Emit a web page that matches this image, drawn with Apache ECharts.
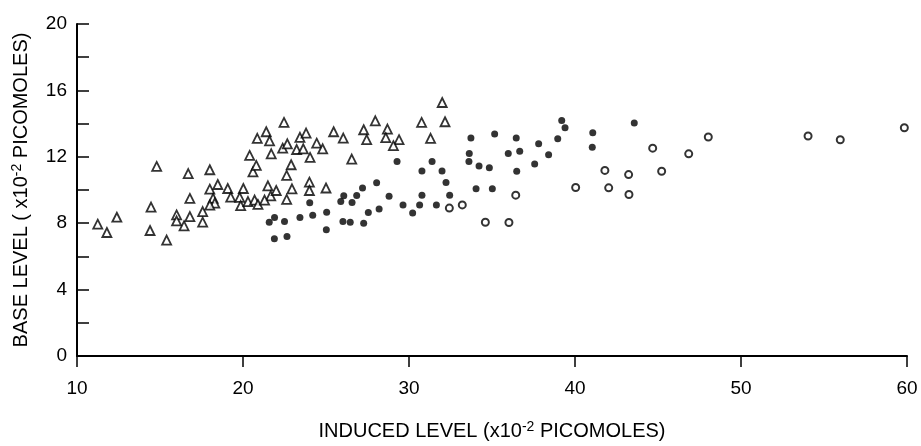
<!DOCTYPE html>
<html>
<head>
<meta charset="utf-8">
<script src="https://cdn.jsdelivr.net/npm/echarts@6/dist/echarts.min.js"></script>
<style>
  html, body { margin: 0; padding: 0; background: #fff; }
  #chart { width: 921px; height: 446px; }
</style>
</head>
<body>
<div id="chart"></div>
<script>
// open triangles
const triangles = [
  [11.25, 7.94], [11.8, 7.44], [12.4, 8.36], [14.4, 7.56], [14.46, 8.97],
  [14.8, 11.42], [15.4, 6.98], [16.0, 8.5], [16.0, 8.14], [16.45, 7.84],
  [16.8, 8.4], [16.7, 10.99], [16.8, 9.49], [17.57, 8.7], [17.57, 8.06],
  [18.0, 11.22], [18.0, 10.05], [18.2, 9.49], [18.3, 9.21], [18.0, 9.09],
  [18.48, 10.33], [19.08, 10.09], [19.26, 9.57], [20.02, 10.09], [19.8, 9.55],
  [19.86, 9.06], [20.3, 9.3], [20.7, 9.39], [20.9, 9.13], [20.4, 12.08],
  [20.6, 11.09], [20.8, 11.48], [20.86, 13.11], [21.4, 13.51], [21.6, 12.96],
  [21.7, 12.18], [21.5, 10.25], [21.67, 9.65], [21.3, 9.39], [22.0, 9.97],
  [22.47, 14.07], [22.39, 12.52], [22.67, 12.78], [22.9, 11.52], [22.63, 10.88],
  [22.95, 10.07], [22.63, 9.43], [23.43, 13.17], [23.8, 13.43], [23.23, 12.44],
  [23.63, 12.48], [24.04, 11.96], [24.0, 10.47], [24.0, 9.97], [24.44, 12.82],
  [24.8, 12.48], [25.46, 13.51], [26.04, 13.13], [26.55, 11.86], [25.0, 10.12],
  [27.27, 13.63], [27.97, 14.17], [28.7, 13.67], [27.45, 13.03], [28.6, 13.15],
  [29.4, 13.03], [29.06, 12.67], [30.76, 14.07], [31.3, 13.11], [32.0, 15.27],
  [32.17, 14.11]
];

// filled circles
const dots = [
  [21.58, 8.06], [21.9, 8.34], [21.89, 7.06], [22.5, 8.1], [22.65, 7.2],
  [23.43, 8.34], [24.02, 9.23], [24.2, 8.48], [25.04, 8.66], [25.02, 7.6],
  [25.89, 9.3], [26.07, 9.65], [26.02, 8.1], [26.46, 8.06], [26.57, 9.25],
  [26.85, 9.67], [27.2, 10.12], [27.27, 8.0], [27.55, 8.64], [28.05, 10.43],
  [28.2, 8.86], [28.8, 9.63], [29.28, 11.72], [29.64, 9.1], [30.22, 8.62],
  [30.64, 9.1], [30.78, 9.69], [30.78, 11.14], [31.39, 11.72], [31.65, 9.1],
  [31.99, 11.14], [32.23, 10.45], [32.45, 9.69], [33.73, 13.13], [33.63, 12.2],
  [33.61, 11.72], [34.22, 11.44], [34.84, 11.34], [35.16, 13.37], [34.04, 10.07],
  [35.02, 10.07], [36.46, 13.13], [35.98, 12.2], [36.67, 12.33], [36.49, 11.13],
  [37.81, 12.78], [37.57, 11.56], [38.41, 12.12], [38.96, 13.09], [39.2, 14.19],
  [39.4, 13.75], [41.07, 13.45], [41.04, 12.58], [43.57, 14.03]
];

// open circles
const rings = [
  [32.43, 8.91], [33.21, 9.1], [34.6, 8.06], [36.02, 8.04], [36.43, 9.69],
  [40.04, 10.15], [41.8, 11.18], [42.03, 10.13], [43.23, 10.93], [43.25, 9.73],
  [44.68, 12.52], [45.22, 11.13], [46.85, 12.18], [48.03, 13.19], [54.04, 13.25],
  [55.98, 13.03], [59.84, 13.75]
];

const xName = "INDUCED LEVEL (x10{sup|-2} PICOMOLES)";
const yName = "BASE LEVEL ( x10{sup|-2} PICOMOLES)";

const chart = echarts.init(document.getElementById("chart"));

const font = "Liberation Sans";
const ink = "#000";
const nameStyle = {
  fontFamily: font,
  fontSize: 20,
  color: ink,
  rich: {
    sup: { fontFamily: font, fontSize: 14, color: ink, verticalAlign: "top", lineHeight: 22 }
  }
};

const option = {
  animation: false,
  backgroundColor: "#fff",
  grid: { left: 77, right: 14, top: 24, bottom: 87, containLabel: false },
  xAxis: {
    type: "value",
    min: 10,
    max: 60,
    interval: 10,
    name: xName,
    nameLocation: "middle",
    nameGap: 64,
    nameTextStyle: nameStyle,
    axisLine: { lineStyle: { color: ink, width: 2 } },
    axisTick: { inside: false, length: 11, lineStyle: { color: ink, width: 1.5 } },
    axisLabel: { fontFamily: font, fontSize: 19, color: ink, margin: 23 },
    splitLine: { show: false }
  },
  yAxis: {
    type: "value",
    min: 0,
    max: 20,
    interval: 4,
    name: yName,
    nameLocation: "middle",
    nameGap: 45,
    nameTextStyle: nameStyle,
    axisLine: { lineStyle: { color: ink, width: 2 } },
    axisTick: { inside: true, length: 12, lineStyle: { color: ink, width: 1.5 } },
    minorTick: { show: true, splitNumber: 2, length: 12, lineStyle: { color: ink, width: 1.5 } },
    axisLabel: { fontFamily: font, fontSize: 19, color: ink, margin: 10 },
    splitLine: { show: false }
  },
  series: [
    {
      type: "scatter",
      data: triangles,
      symbol: "triangle",
      symbolSize: 9,
      itemStyle: { color: "#fff", borderColor: ink, borderWidth: 1.8 }
    },
    {
      type: "scatter",
      data: dots,
      symbol: "circle",
      symbolSize: 7,
      itemStyle: { color: ink }
    },
    {
      type: "scatter",
      data: rings,
      symbol: "circle",
      symbolSize: 7,
      itemStyle: { color: "#fff", borderColor: ink, borderWidth: 2 }
    }
  ]
};

chart.setOption(option);
</script>
</body>
</html>
